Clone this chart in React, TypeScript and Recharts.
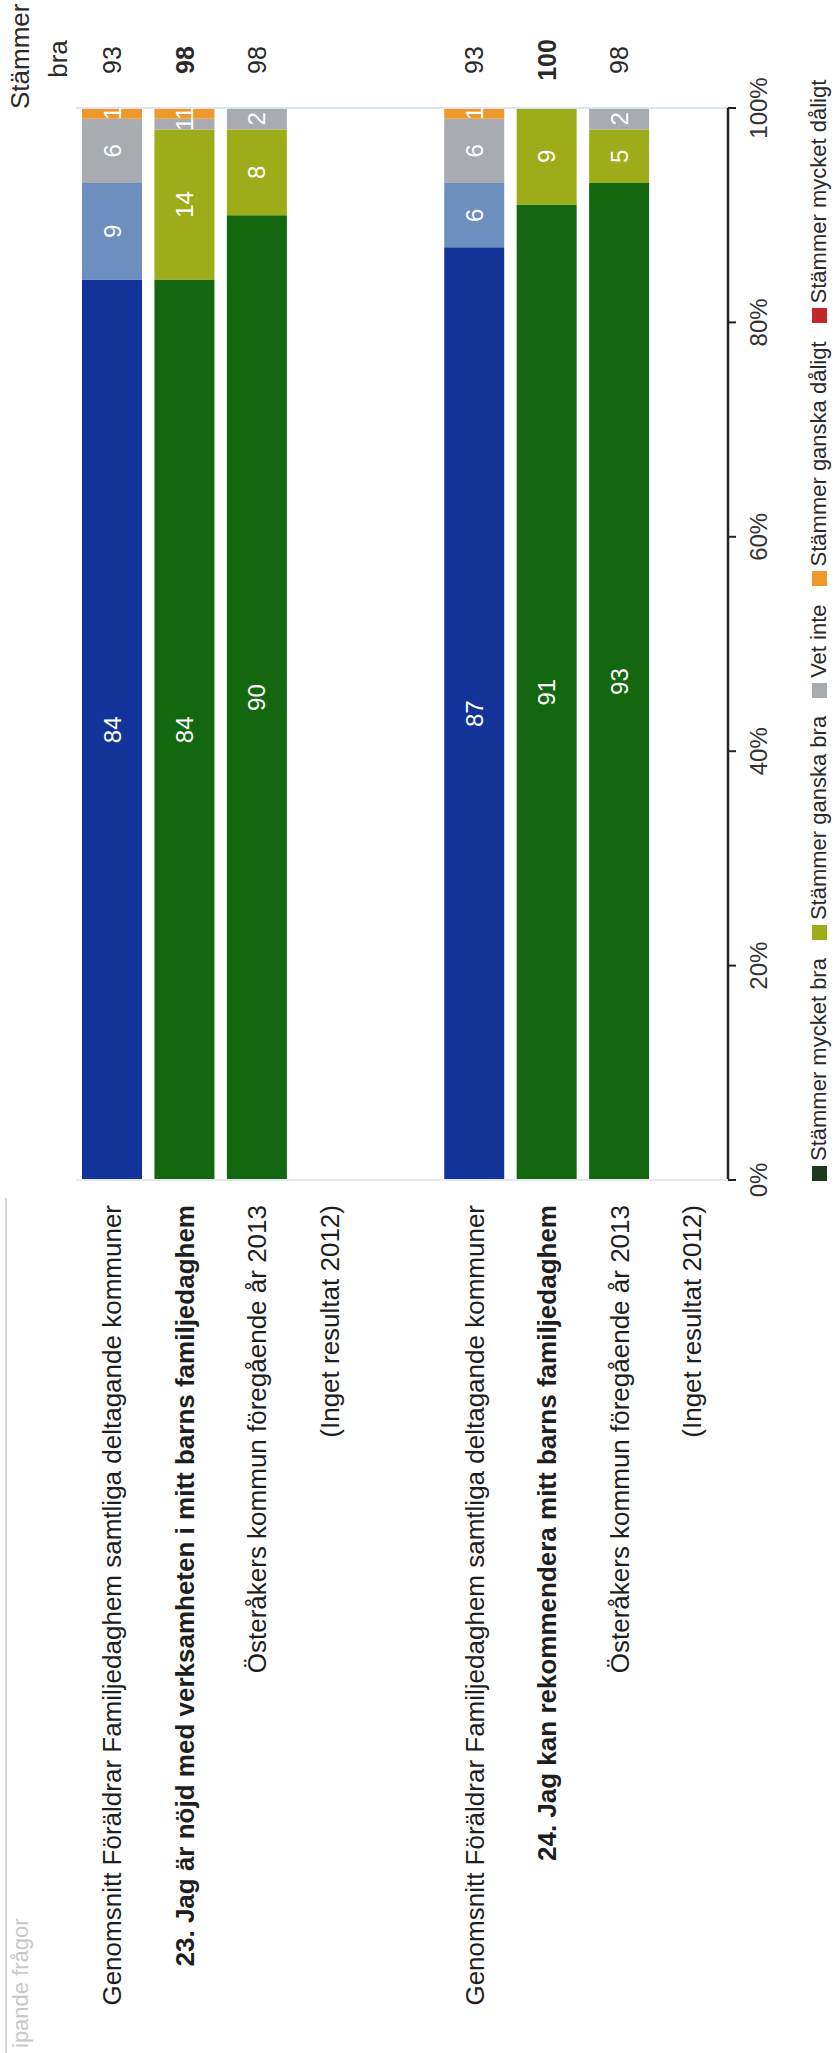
import React from "react";
import {
  BarChart,
  Bar,
  Cell,
  XAxis,
  YAxis,
  Legend,
  LabelList,
  ReferenceLine,
} from "recharts";

const categories = [
  "Genomsnitt Föräldrar Familjedaghem samtliga deltagande kommuner",
  "23. Jag är nöjd med verksamheten i mitt barns familjedaghem",
  "Österåkers kommun föregående år 2013",
  "(Inget resultat 2012)",
  "",
  "Genomsnitt Föräldrar Familjedaghem samtliga deltagande kommuner",
  "24. Jag kan rekommendera mitt barns familjedaghem",
  "Österåkers kommun föregående år 2013",
  "(Inget resultat 2012)",
];
const boldRows = [false, true, false, false, false, false, true, false, false];
const avgRows = [true, false, false, false, false, true, false, false, false];

const seriesNames = [
  "Stämmer mycket bra",
  "Stämmer ganska bra",
  "Vet inte",
  "Stämmer ganska dåligt",
  "Stämmer mycket dåligt",
];

const mycketBra = [84, 84, 90, null, null, 87, 91, 93, null];
const ganskaBra = [9, 14, 8, null, null, 6, 9, 5, null];
const vetInte = [6, 1, 2, null, null, 6, 0, 2, null];
const ganskaDaligt = [1, 1, 0, null, null, 1, 0, 0, null];
const mycketDaligt = [0, 0, 0, null, null, 0, 0, 0, null];
const stammerBra = ["93", "98", "98", "", "", "93", "100", "98", ""];

const xTicks = [0, 20, 40, 60, 80, 100];

const W = 2053;
const H = 835;
const FONT = "'Liberation Sans', Arial, sans-serif";

const colors = {
  avgDark: "#12339a",
  avgLight: "#6d8fc0",
  green: "#12670f",
  olive: "#9dad19",
  gray: "#a8abb0",
  orange: "#f0992b",
  red: "#c3272b",
  legendDark: "#1d3a1d",
};

const data = categories.map((c, i) => ({
  id: String(i),
  mycketBra: mycketBra[i],
  ganskaBra: ganskaBra[i],
  vetInte: vetInte[i],
  ganskaDaligt: ganskaDaligt[i],
  mycketDaligt: mycketDaligt[i],
}));

const CategoryTick = (props) => {
  const { x, y, payload } = props;
  const i = Number(payload.value);
  return (
    <text
      x={x}
      y={y}
      dy="0.355em"
      textAnchor="end"
      fontSize={26}
      fontFamily={FONT}
      fontWeight={boldRows[i] ? 700 : 400}
      fill="#1e1e1e"
    >
      {categories[i]}
    </text>
  );
};

const TotalTick = (props) => {
  const { x, y, payload } = props;
  const i = Number(payload.value);
  return (
    <text
      x={x + 48}
      y={y}
      dy="0.355em"
      textAnchor="middle"
      fontSize={25}
      fontFamily={FONT}
      fontWeight={boldRows[i] ? 700 : 400}
      fill="#2a2a2a"
    >
      {stammerBra[i]}
    </text>
  );
};

// legend keeps the series order (recharts sorts by name otherwise)
const LegendContent = ({ payload }) => {
  const items = [...(payload || [])].sort(
    (a, b) => seriesNames.indexOf(a.value) - seriesNames.indexOf(b.value)
  );
  return (
    <div
      style={{
        display: "flex",
        alignItems: "center",
        fontFamily: FONT,
        fontSize: 22,
        color: "#2a2a2a",
        whiteSpace: "nowrap",
      }}
    >
      {items.map((p) => (
        <div
          key={p.value}
          style={{ display: "flex", alignItems: "center", marginRight: 18 }}
        >
          <span
            style={{
              width: 15,
              height: 15,
              background: p.color,
              marginRight: 5,
              display: "inline-block",
            }}
          />
          <span>{p.value}</span>
        </div>
      ))}
    </div>
  );
};

const hideZero = (v) => (v ? v : "");

const segLabel = (key) => (
  <LabelList
    dataKey={key}
    position="center"
    fill="#ffffff"
    fontSize={24}
    fontFamily={FONT}
    formatter={hideZero}
  />
);

export default function App() {
  return (
    <div
      style={{
        position: "absolute",
        top: 0,
        left: 0,
        width: 835,
        height: 2053,
        overflow: "hidden",
        background: "#fff",
      }}
    >
      <div
        style={{
          position: "absolute",
          top: 0,
          left: 0,
          width: W,
          height: H,
          transformOrigin: "0 0",
          transform: `translate(0px, ${W}px) rotate(-90deg)`,
          fontFamily: FONT,
        }}
      >
        {/* cut-off section title and its rule */}
        <div
          style={{
            position: "absolute",
            left: 0,
            top: 5,
            width: 855,
            height: 2,
            background: "#d6d6d6",
          }}
        />
        <div
          style={{
            position: "absolute",
            left: 5,
            top: 8,
            fontSize: 22,
            color: "#c8c8c8",
            whiteSpace: "nowrap",
          }}
        >
          ipande frågor
        </div>
        <div
          style={{
            position: "absolute",
            left: 1944,
            top: 1,
            width: 100,
            textAlign: "center",
            fontSize: 26,
            lineHeight: "38px",
            color: "#2a2a2a",
          }}
        >
          Stämmer
          <br />
          bra
        </div>
        <BarChart
          width={W}
          height={H}
          data={data}
          layout="vertical"
          barSize={60}
          margin={{ top: 76, right: 0, bottom: 57, left: 0 }}
        >
          <XAxis
            type="number"
            domain={[0, 100]}
            ticks={xTicks}
            tickFormatter={(v) => `${v}%`}
            height={50}
            stroke="#222"
            axisLine={{ stroke: "#222", strokeWidth: 2.5 }}
            tickLine={{ stroke: "#222", strokeWidth: 2 }}
            tickSize={8}
            tickMargin={14}
            tick={{ fontSize: 24, fill: "#333", fontFamily: FONT }}
          />
          <YAxis
            type="category"
            dataKey="id"
            width={873}
            tick={<CategoryTick />}
            tickSize={0}
            tickMargin={25}
            tickLine={false}
            axisLine={{ stroke: "#e2e8ef", strokeWidth: 2 }}
          />
          <YAxis
            yAxisId="right"
            orientation="right"
            type="category"
            dataKey="id"
            width={108}
            tick={<TotalTick />}
            tickSize={0}
            tickMargin={0}
            tickLine={false}
            axisLine={false}
          />
          <ReferenceLine x={100} stroke="#dbe5f1" strokeWidth={2} />
          <Legend
            layout="horizontal"
            verticalAlign="middle"
            align="center"
            content={(props) => <LegendContent payload={props.payload} />}
            wrapperStyle={{ left: 872, top: 806, width: 1200, height: 30 }}
          />
          <Bar
            dataKey="mycketBra"
            name={seriesNames[0]}
            stackId="a"
            fill={colors.legendDark}
            isAnimationActive={false}
          >
            {data.map((d, i) => (
              <Cell key={`mb-${i}`} fill={avgRows[i] ? colors.avgDark : colors.green} />
            ))}
            {segLabel("mycketBra")}
          </Bar>
          <Bar
            dataKey="ganskaBra"
            name={seriesNames[1]}
            stackId="a"
            fill={colors.olive}
            isAnimationActive={false}
          >
            {data.map((d, i) => (
              <Cell key={`gb-${i}`} fill={avgRows[i] ? colors.avgLight : colors.olive} />
            ))}
            {segLabel("ganskaBra")}
          </Bar>
          <Bar
            dataKey="vetInte"
            name={seriesNames[2]}
            stackId="a"
            fill={colors.gray}
            isAnimationActive={false}
          >
            {segLabel("vetInte")}
          </Bar>
          <Bar
            dataKey="ganskaDaligt"
            name={seriesNames[3]}
            stackId="a"
            fill={colors.orange}
            isAnimationActive={false}
          >
            {segLabel("ganskaDaligt")}
          </Bar>
          <Bar
            dataKey="mycketDaligt"
            name={seriesNames[4]}
            stackId="a"
            fill={colors.red}
            isAnimationActive={false}
          >
            {segLabel("mycketDaligt")}
          </Bar>
        </BarChart>
      </div>
    </div>
  );
}
